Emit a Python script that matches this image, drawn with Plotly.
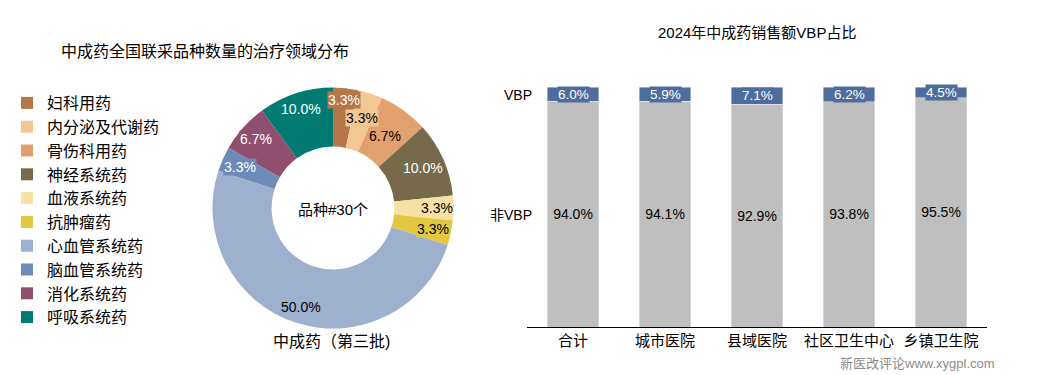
import math
import plotly.graph_objects as go

# ---- Donut data ----
areas = ["妇科用药", "内分泌及代谢药", "骨伤科用药", "神经系统药", "血液系统药",
         "抗肿瘤药", "心血管系统药", "脑血管系统药", "消化系统药", "呼吸系统药"]
counts = [1, 1, 2, 3, 1, 1, 15, 1, 2, 3]
area_colors = ["#B5774A", "#F3C794", "#E3A06F", "#766A4A", "#F6E0A4",
               "#E1C840", "#9DB0CE", "#6D8BB7", "#904F6F", "#007A72"]
area_text_colors = ["white", "black", "black", "white", "black",
                    "black", "black", "white", "white", "white"]

# ---- Bar data ----
settings = ["合计", "城市医院", "县域医院", "社区卫生中心", "乡镇卫生院"]
vbp = [6.0, 5.9, 7.1, 6.2, 4.5]
non_vbp = [94.0, 94.1, 92.9, 93.8, 95.5]

FONT = "Liberation Sans, Arial, Noto Sans CJK SC, sans-serif"
W, H = 1047, 375

# donut geometry (pixels)
CX, CY, R_OUT = 333, 208, 120.5
# label placement style: radial distance (px) of each slice's label
label_r = [109, 95, 89, 99, 104, 102, 104, 102, 103, 104]

fig = go.Figure()

fig.add_trace(go.Pie(
    labels=areas, values=counts, sort=False, direction="clockwise",
    hole=0.51, marker=dict(colors=area_colors, line=dict(width=0)),
    textinfo="none",
    domain=dict(x=[(CX - R_OUT) / W, (CX + R_OUT) / W],
                y=[(H - CY - R_OUT) / H, (H - CY + R_OUT) / H]),
    showlegend=True, hoverinfo="label+percent",
))

fig.add_trace(go.Bar(
    x=settings, y=non_vbp, name="非VBP", marker_color="#BFBFBF", width=0.565,
    text=[f"{v:.1f}%" for v in non_vbp], textposition="inside",
    insidetextanchor="middle", constraintext="none",
    textfont=dict(size=14, color="black", family=FONT),
    xaxis="x2", yaxis="y2", showlegend=False,
))
fig.add_trace(go.Bar(
    x=settings, y=vbp, name="VBP", marker_color="#4E6D9D", width=0.565,
    xaxis="x2", yaxis="y2", showlegend=False,
))


def note(text, x, y, size, color="black", xanchor="center"):
    return dict(text=text, x=x / W, y=(H - y) / H, xref="paper", yref="paper",
                xanchor=xanchor, yanchor="middle", showarrow=False,
                font=dict(size=size, color=color, family=FONT))


annotations = [
    note("中成药全国联采品种数量的治疗领域分布", 205, 51, 16),
    note("品种#30个", 333, 209, 15),
    note("中成药（第三批)", 331, 341, 16),
    note("2024年中成药销售额VBP占比", 757, 32, 15),
    note("VBP", 534, 95, 14, xanchor="right"),
    note("非VBP", 534, 215, 14, xanchor="right"),
    note("新医改评论www.xygpl.com", 997, 363, 13, color="#8C8C8C", xanchor="right"),
]

# donut percentage labels, placed at the mid-angle of each slice
total = sum(counts)
cum = 0
for i, c in enumerate(counts):
    mid = (cum + c / 2) / total * 360
    cum += c
    a = math.radians(mid)
    px = CX + label_r[i] * math.sin(a)
    py = CY - label_r[i] * math.cos(a)
    d = note(f"{c / total * 100:.1f}%", px, py, 14, color=area_text_colors[i])
    d.update(bgcolor=area_colors[i], borderpad=0)
    annotations.append(d)

for s, nv, v in zip(settings, non_vbp, vbp):
    annotations.append(dict(
        text=f"{v:.1f}%", x=s, y=nv + v / 2, xref="x2", yref="y2", showarrow=False,
        xanchor="center", yanchor="middle",
        bgcolor="#4E6D9D", borderpad=0, font=dict(size=13.5, color="white", family=FONT)))

fig.update_layout(
    width=W, height=H, margin=dict(l=0, r=0, t=0, b=0),
    paper_bgcolor="white", plot_bgcolor="white",
    barmode="stack", bargap=0.435,
    font=dict(family=FONT, size=14, color="black"),
    legend=dict(x=7 / W, y=(H - 86) / H, xanchor="left", yanchor="top",
                traceorder="normal", font=dict(size=16, family=FONT), itemclick=False),
    xaxis2=dict(domain=[527 / W, 987 / W], anchor="y2", showline=True, linecolor="black",
                linewidth=1, ticks="", showgrid=False, tickfont=dict(size=15, family=FONT)),
    yaxis2=dict(domain=[(H - 327) / H, (H - 87) / H], anchor="x2", range=[0, 100],
                visible=False, showgrid=False),
    annotations=annotations,
)

fig.write_html("out.html", config={"displayModeBar": False},
               post_script="document.body.style.margin='0';")
